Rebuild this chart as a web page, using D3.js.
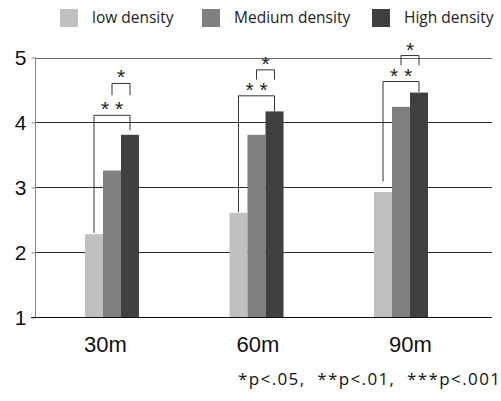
<!DOCTYPE html>
<html>
<head>
<meta charset="utf-8">
<script src="https://cdn.jsdelivr.net/npm/d3@7"></script>
<style>
html,body{margin:0;padding:0;background:#fff;}
svg{display:block;}
</style>
</head>
<body>
<svg id="chart" width="501" height="401"></svg>
<script>
// ---- data ----
const categories = ["30m", "60m", "90m"];
const seriesNames = ["low density", "Medium density", "High density"];
const seriesKeys = ["low", "medium", "high"];
const lowValues = [2.28, 2.61, 2.93];
const mediumValues = [3.26, 3.81, 4.24];
const highValues = [3.81, 4.17, 4.46];
const yTicks = [1, 2, 3, 4, 5];
const seriesColors = ["#c0c0c0", "#808080", "#404040"];
const footnote = "*p<.05,  **p<.01,  ***p<.001";

// significance brackets (values in data units)
const bracketCats   = ["30m", "30m", "60m", "60m", "90m", "90m"];
const bracketFrom   = ["low", "medium", "low", "medium", "low", "medium"];
const bracketTo     = ["high", "high", "high", "high", "high", "high"];
const bracketTop    = [4.11, 4.60, 4.41, 4.81, 4.63, 5.03];
const bracketFromEnd= [2.30, 4.42, 2.62, 4.66, 3.09, 4.88];
const bracketToEnd  = [3.88, 4.42, 4.17, 4.66, 4.47, 4.88];
const bracketLabels = ["* *", "*", "* *", "*", "* *", "*"];

const values = { low: lowValues, medium: mediumValues, high: highValues };

// ---- layout ----
const svg = d3.select("#chart");
const plotLeft = 35, plotRight = 492;

const y = d3.scaleLinear().domain([1, 5]).range([317.3, 57.5]);
const x = d3.scaleBand().domain(categories).range([39.75, 473.25])
  .paddingInner(0.626).paddingOuter(0.313);
const xs = d3.scaleBand().domain(seriesKeys).range([0, x.bandwidth()]);
const xLabel = d3.scalePoint().domain(categories).range([105.5, 410.5]);
const color = d3.scaleOrdinal().domain(seriesKeys).range(seriesColors);

// gridlines
svg.append("g").selectAll("line")
  .data(yTicks.filter(t => t > 1))
  .join("line")
  .attr("x1", plotLeft).attr("x2", plotRight)
  .attr("y1", d => Math.round(y(d)) + 0.5).attr("y2", d => Math.round(y(d)) + 0.5)
  .attr("stroke", d => d === 5 ? "#666" : "#2a2a2a")
  .attr("stroke-width", 1);

// bars
const rows = [];
categories.forEach((c, i) => seriesKeys.forEach(k => rows.push({ cat: c, key: k, value: values[k][i] })));
svg.append("g").selectAll("rect")
  .data(rows)
  .join("rect")
  .attr("x", d => x(d.cat) + xs(d.key))
  .attr("width", xs.bandwidth())
  .attr("y", d => y(d.value))
  .attr("height", d => y(1) - y(d.value))
  .attr("fill", d => color(d.key));

// y axis
const yAxis = d3.axisLeft(y).tickValues(yTicks).tickSize(4).tickPadding(5).tickFormat(d3.format("d"));
const yg = svg.append("g").attr("transform", `translate(${plotLeft + 0.5},0)`).call(yAxis);
yg.select(".domain").attr("stroke", "#888").attr("d", `M0,${y(5)}V${y(1)}`);
yg.selectAll(".tick line").attr("stroke", "#888");
yg.selectAll(".tick text")
  .attr("font-family", "Arial, 'Liberation Sans', sans-serif")
  .attr("font-size", 21).attr("fill", "#111");

// bottom axis line
svg.append("line")
  .attr("x1", plotLeft - 4).attr("x2", plotRight)
  .attr("y1", Math.round(y(1)) + 0.5).attr("y2", Math.round(y(1)) + 0.5)
  .attr("stroke", "#111").attr("stroke-width", 1.2);

// x labels
svg.append("g").selectAll("text")
  .data(categories)
  .join("text")
  .attr("x", d => xLabel(d))
  .attr("y", 352)
  .attr("text-anchor", "middle")
  .attr("font-family", "Arial, 'Liberation Sans', sans-serif")
  .attr("font-size", 22).attr("fill", "#111")
  .text(d => d);

// brackets
const bg = svg.append("g");
bracketCats.forEach((c, i) => {
  const x1 = x(c) + xs(bracketFrom[i]) + xs.bandwidth() / 2;
  const x2 = x(c) + xs(bracketTo[i]) + xs.bandwidth() / 2;
  const yt = y(bracketTop[i]);
  bg.append("path")
    .attr("d", `M${x1},${y(bracketFromEnd[i])}V${yt}H${x2}V${y(bracketToEnd[i])}`)
    .attr("fill", "none").attr("stroke", "#333").attr("stroke-width", 1);
  bg.append("text")
    .attr("x", (x1 + x2) / 2)
    .attr("y", yt + 1)
    .attr("text-anchor", "middle")
    .attr("font-family", "Arial, 'Liberation Sans', sans-serif")
    .attr("font-size", 21).attr("fill", "#222")
    .text(bracketLabels[i]);
});

// legend
const legendX = [60, 202, 372];
const lg = svg.append("g");
seriesNames.forEach((name, i) => {
  lg.append("rect").attr("x", legendX[i]).attr("y", 9).attr("width", 18).attr("height", 18)
    .attr("fill", seriesColors[i]);
  lg.append("text").attr("x", legendX[i] + 32).attr("y", 23)
    .attr("font-family", "'Open Sans', sans-serif").attr("font-size", 15.5).attr("fill", "#222")
    .text(name);
});

// footnote
svg.append("text")
  .attr("x", 238).attr("y", 385)
  .attr("font-family", "'Open Sans', sans-serif")
  .attr("font-size", 17).attr("fill", "#111")
  .attr("textLength", 262)
  .attr("lengthAdjust", "spacing")
  .attr("xml:space", "preserve")
  .style("white-space", "pre")
  .text(footnote);
</script>
</body>
</html>
